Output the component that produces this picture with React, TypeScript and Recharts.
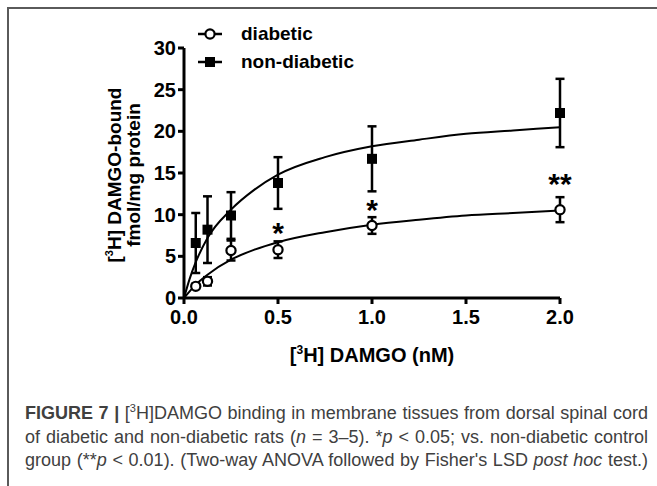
import React from "react";
import {
  ComposedChart,
  Line,
  Scatter,
  XAxis,
  YAxis,
  ErrorBar,
  Label,
} from "recharts";

// [3H] DAMGO concentration (nM)
const doses = [0.0625, 0.125, 0.25, 0.5, 1.0, 2.0];

// specific binding, fmol/mg protein (mean ± SEM)
const diabeticMean = [1.4, 2.0, 5.7, 5.8, 8.7, 10.6];
const diabeticSem = [0.3, 0.5, 1.2, 1.0, 1.0, 1.5];
const nonDiabeticMean = [6.6, 8.2, 9.9, 13.8, 16.7, 22.2];
const nonDiabeticSem = [3.6, 4.0, 2.8, 3.1, 3.9, 4.1];

// one-site saturation curves
const fitDoses = [0, 0.03, 0.0625, 0.125, 0.25, 0.375, 0.5, 0.75, 1.0, 1.25, 1.5, 1.75, 2.0];
const diabeticFit = [0, 0.8, 1.6, 2.8, 4.6, 5.8, 6.7, 7.9, 8.8, 9.4, 9.9, 10.2, 10.5];
const nonDiabeticFit = [0, 2.3, 4.3, 7.2, 10.6, 13.0, 14.8, 16.9, 18.2, 19.0, 19.7, 20.1, 20.5];

// significance marks above the diabetic points
const sigDoses = [0.5, 1.0, 2.0];
const sigLevel = [8.6, 11.4, 14.5];
const sigText = ["*", "*", "**"];

const xTicks = [0, 0.5, 1.0, 1.5, 2.0];
const yTicks = [0, 5, 10, 15, 20, 25, 30];

const legendNames = ["diabetic", "non-diabetic"];

const FONT = "'Liberation Sans', Arial, Helvetica, sans-serif";

const diabeticPts = doses.map((x, i) => ({ x, y: diabeticMean[i], sem: diabeticSem[i] }));
const nonDiabeticPts = doses.map((x, i) => ({ x, y: nonDiabeticMean[i], sem: nonDiabeticSem[i] }));
const diabeticCurve = fitDoses.map((x, i) => ({ x, y: diabeticFit[i] }));
const nonDiabeticCurve = fitDoses.map((x, i) => ({ x, y: nonDiabeticFit[i] }));
const sigPts = sigDoses.map((x, i) => ({ x, y: sigLevel[i], text: sigText[i] }));

const tickStyle = { fontSize: 20, fontWeight: 700, fill: "#000", fontFamily: FONT };
const axisStroke = { stroke: "#000", strokeWidth: 3 };

const OpenCircle = (p: any) => (
  <circle cx={p.cx} cy={p.cy} r={4.6} fill="#fff" stroke="#000" strokeWidth={2.2} />
);

const FilledSquare = (p: any) => (
  <rect x={p.cx - 5} y={p.cy - 5} width={10} height={10} fill="#000" />
);

const Star = (p: any) => (
  <text
    x={p.cx}
    y={p.cy + 17}
    textAnchor="middle"
    fontSize={30}
    fontWeight={700}
    fontFamily={FONT}
    fill="#000"
  >
    {p.payload.text}
  </text>
);

function LegendBox() {
  return (
    <div
      style={{
        position: "absolute",
        left: 196,
        top: 20,
        fontFamily: FONT,
        fontWeight: 700,
        fontSize: 19,
        color: "#000",
      }}
    >
      {legendNames.map((name, i) => (
        <div key={name} style={{ display: "flex", alignItems: "center", height: 28 }}>
          <svg width={28} height={16} style={{ marginRight: 17 }}>
            <line x1={2} y1={8} x2={26} y2={8} stroke="#000" strokeWidth={2.5} />
            {i === 0 ? (
              <circle cx={14} cy={8} r={4.6} fill="#fff" stroke="#000" strokeWidth={2.2} />
            ) : (
              <rect x={9} y={3} width={10} height={10} fill="#000" />
            )}
          </svg>
          <span>{name}</span>
        </div>
      ))}
    </div>
  );
}

function XTitle(props: any) {
  const { x, y, width } = props.viewBox;
  return (
    <text
      x={x + width / 2}
      y={y + 64}
      textAnchor="middle"
      fontSize={20}
      fontWeight={700}
      fontFamily={FONT}
      fill="#000"
    >
      [<tspan fontSize={12} dy={-8}>3</tspan>
      <tspan dy={8}>H] DAMGO (nM)</tspan>
    </text>
  );
}

function YTitle(props: any) {
  const { y, height } = props.viewBox;
  const cy = y + height / 2 + 2;
  const common = {
    textAnchor: "middle" as const,
    fontSize: 19,
    fontWeight: 700,
    fontFamily: FONT,
    fill: "#000",
  };
  return (
    <g>
      <text x={121} y={cy} transform={`rotate(-90 121 ${cy})`} {...common}>
        [<tspan fontSize={11} dy={-8}>3</tspan>
        <tspan dy={8}>H] DAMGO-bound</tspan>
      </text>
      <text x={140} y={cy} transform={`rotate(-90 140 ${cy})`} {...common}>
        fmol/mg protein
      </text>
    </g>
  );
}

const captionLine = {
  textAlign: "justify" as const,
  textAlignLast: "justify" as const,
  whiteSpace: "nowrap" as const,
};

export default function App() {
  return (
    <div
      style={{
        position: "absolute",
        left: 0,
        top: 0,
        width: 657,
        height: 486,
        background: "#fff",
        overflow: "hidden",
      }}
    >
      <div
        style={{
          position: "absolute",
          left: 7,
          top: 7,
          right: 0,
          bottom: 0,
          borderTop: "2px solid #5a5a5a",
          borderLeft: "2px solid #5a5a5a",
        }}
      />
      <div style={{ position: "absolute", left: 0, top: 0 }}>
        <ComposedChart
          width={657}
          height={372}
          margin={{ top: 48, right: 97, left: 124, bottom: 44 }}
        >
          <XAxis
            dataKey="x"
            type="number"
            domain={[0, 2]}
            ticks={xTicks}
            tickFormatter={(v: number) => v.toFixed(1)}
            tick={tickStyle}
            axisLine={axisStroke}
            tickLine={axisStroke}
            tickSize={6}
            tickMargin={6}
            height={30}
          >
            <Label content={XTitle} />
          </XAxis>
          <YAxis
            dataKey="y"
            type="number"
            domain={[0, 30]}
            ticks={yTicks}
            tick={tickStyle}
            axisLine={axisStroke}
            tickLine={axisStroke}
            tickSize={6}
            tickMargin={2}
            width={60}
          >
            <Label content={YTitle} />
          </YAxis>
          <Line
            data={nonDiabeticCurve}
            dataKey="y"
            type="monotone"
            stroke="#000"
            strokeWidth={2}
            dot={false}
            activeDot={false}
            legendType="none"
            isAnimationActive={false}
          />
          <Line
            data={diabeticCurve}
            dataKey="y"
            type="monotone"
            stroke="#000"
            strokeWidth={2}
            dot={false}
            activeDot={false}
            legendType="none"
            isAnimationActive={false}
          />
          <Scatter
            name="non-diabetic"
            data={nonDiabeticPts}
            dataKey="y"
            shape={FilledSquare}
            isAnimationActive={false}
          >
            <ErrorBar dataKey="sem" direction="y" width={4.5} stroke="#000" strokeWidth={2.5} />
          </Scatter>
          <Scatter
            name="diabetic"
            data={diabeticPts}
            dataKey="y"
            shape={OpenCircle}
            isAnimationActive={false}
          >
            <ErrorBar dataKey="sem" direction="y" width={4.5} stroke="#000" strokeWidth={2.5} />
          </Scatter>
          <Scatter
            data={sigPts}
            dataKey="y"
            shape={Star}
            legendType="none"
            isAnimationActive={false}
          />
        </ComposedChart>
      </div>
      <LegendBox />
      <div
        style={{
          position: "absolute",
          left: 25,
          top: 402,
          width: 623,
          fontFamily: FONT,
          fontSize: 18,
          lineHeight: "23.5px",
          color: "#404040",
        }}
      >
        <div style={captionLine}>
          <b>FIGURE 7 |</b> [<sup style={{ fontSize: 11, lineHeight: 0 }}>3</sup>H]DAMGO binding in
          membrane tissues from dorsal spinal cord
        </div>
        <div style={captionLine}>
          of diabetic and non-diabetic rats (<i>n</i> = 3–5). *<i>p</i> &lt; 0.05; vs. non-diabetic
          control
        </div>
        <div style={captionLine}>
          group (**<i>p</i> &lt; 0.01). (Two-way ANOVA followed by Fisher's LSD <i>post hoc</i>{" "}
          test.)
        </div>
      </div>
    </div>
  );
}
